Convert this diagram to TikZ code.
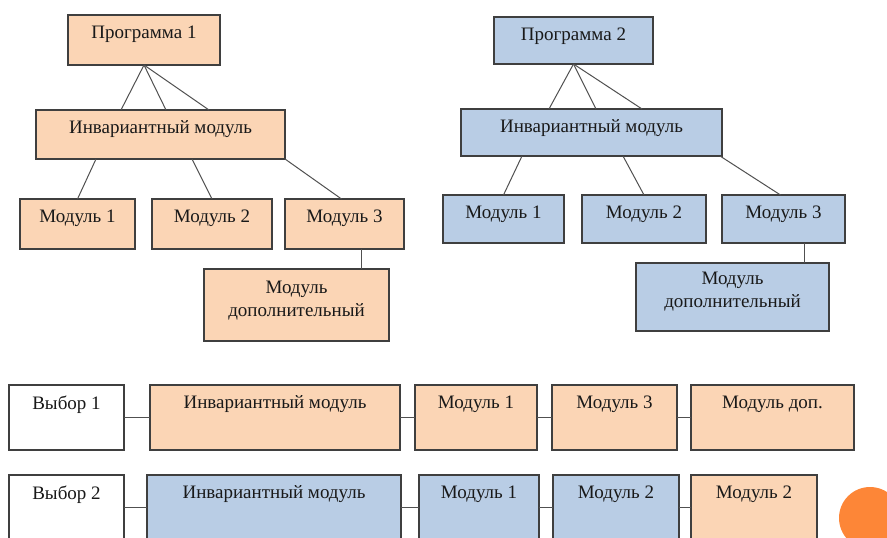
\documentclass[tikz,border=0pt]{standalone}
\usepackage{fontspec}
\setmainfont{Liberation Serif}
\definecolor{orfill}{HTML}{FBD5B5}
\definecolor{blfill}{HTML}{B9CDE5}
\definecolor{edge}{HTML}{3F3F3F}
\definecolor{conn}{HTML}{505050}
\definecolor{dot}{HTML}{FD8637}
\begin{document}
\begin{tikzpicture}[x=1pt,y=-1pt,
  box/.style={draw=edge, line width=1.3pt, rectangle, anchor=north west, inner sep=0pt, outer sep=0pt},
  ob/.style={box, fill=orfill},
  bb/.style={box, fill=blfill},
  wb/.style={box, fill=white},
  txt/.style={font=\fontsize{19}{23}\selectfont, text=black!90, align=center, inner sep=0pt},
  con/.style={draw=conn, line width=1pt}]
\useasboundingbox (0,0) rectangle (887,538);
\begin{scope}
\clip (0,0) rectangle (887,538);
% ---------- left tree ----------
\node[ob, minimum width=152pt, minimum height=50pt] (p1) at (68,15) {};
\node[txt] at ([yshift=-19.5pt]p1.north) {Программа 1};
\node[ob, minimum width=249pt, minimum height=49pt] (i1) at (36,110) {};
\node[txt] at ([yshift=-19.5pt]i1.north) {Инвариантный модуль};
\node[ob, minimum width=115pt, minimum height=50pt] (a1) at (20,199) {};
\node[txt] at ([yshift=-19.5pt]a1.north) {Модуль 1};
\node[ob, minimum width=120pt, minimum height=50pt] (a2) at (152,199) {};
\node[txt] at ([yshift=-19.5pt]a2.north) {Модуль 2};
\node[ob, minimum width=119pt, minimum height=50pt] (a3) at (285,199) {};
\node[txt] at ([yshift=-19.5pt]a3.north) {Модуль 3};
\node[ob, minimum width=185pt, minimum height=72pt] (ad) at (204,269) {};
\node[txt, anchor=north] at ([yshift=-12pt]ad.north) {Модуль\\дополнительный};
\draw[con] (p1.south) -- ([xshift=85pt]i1.north west);
\draw[con] (p1.south) -- ([xshift=130pt]i1.north west);
\draw[con] (p1.south) -- ([xshift=173pt]i1.north west);
\draw[con] ([xshift=60pt]i1.south west) -- (a1.north);
\draw[con] ([xshift=156pt]i1.south west) -- (a2.north);
\draw[con] (i1.south east) -- ([xshift=-3pt]a3.north);
\draw[con] ([xshift=76pt]a3.south west) -- ([xshift=157pt]ad.north west);
% ---------- right tree ----------
\node[bb, minimum width=159pt, minimum height=47pt] (p2) at (494,17) {};
\node[txt] at ([yshift=-19.5pt]p2.north) {Программа 2};
\node[bb, minimum width=261pt, minimum height=47pt] (i2) at (461,109) {};
\node[txt] at ([yshift=-19.5pt]i2.north) {Инвариантный модуль};
\node[bb, minimum width=121pt, minimum height=48pt] (b1) at (443,195) {};
\node[txt] at ([yshift=-19.5pt]b1.north) {Модуль 1};
\node[bb, minimum width=124pt, minimum height=48pt] (b2) at (582,195) {};
\node[txt] at ([yshift=-19.5pt]b2.north) {Модуль 2};
\node[bb, minimum width=123pt, minimum height=48pt] (b3) at (722,195) {};
\node[txt] at ([yshift=-19.5pt]b3.north) {Модуль 3};
\node[bb, minimum width=193pt, minimum height=68pt] (bd) at (636,263) {};
\node[txt, anchor=north] at ([yshift=-9pt]bd.north) {Модуль\\дополнительный};
\draw[con] (p2.south) -- ([xshift=88pt]i2.north west);
\draw[con] (p2.south) -- ([xshift=135pt]i2.north west);
\draw[con] (p2.south) -- ([xshift=181pt]i2.north west);
\draw[con] ([xshift=61pt]i2.south west) -- (b1.north);
\draw[con] ([xshift=162pt]i2.south west) -- (b2.north);
\draw[con] ([xshift=-2pt]i2.south east) -- ([xshift=-3pt]b3.north);
\draw[con] ([xshift=82pt]b3.south west) -- ([xshift=168pt]bd.north west);
% ---------- row 1 ----------
\node[wb, minimum width=115pt, minimum height=65pt] (v1) at (9,385) {};
\node[txt] at ([yshift=-19.5pt]v1.north) {Выбор 1};
\node[ob, minimum width=250pt, minimum height=65pt] (r1a) at (150,385) {};
\node[txt] at ([yshift=-19.5pt]r1a.north) {Инвариантный модуль};
\node[ob, minimum width=122pt, minimum height=65pt] (r1b) at (415,385) {};
\node[txt] at ([yshift=-19.5pt]r1b.north) {Модуль 1};
\node[ob, minimum width=125pt, minimum height=65pt] (r1c) at (552,385) {};
\node[txt] at ([yshift=-19.5pt]r1c.north) {Модуль 3};
\node[ob, minimum width=163pt, minimum height=65pt] (r1d) at (691,385) {};
\node[txt] at ([yshift=-19.5pt]r1d.north) {Модуль доп.};
\draw[con] (v1.east) -- (r1a.west);
\draw[con] (r1a.east) -- (r1b.west);
\draw[con] (r1b.east) -- (r1c.west);
\draw[con] (r1c.east) -- (r1d.west);
% ---------- row 2 ----------
\node[wb, minimum width=115pt, minimum height=65pt] (v2) at (9,475) {};
\node[txt] at ([yshift=-19.5pt]v2.north) {Выбор 2};
\node[bb, minimum width=254pt, minimum height=65pt] (r2a) at (147,475) {};
\node[txt] at ([yshift=-19.5pt]r2a.north) {Инвариантный модуль};
\node[bb, minimum width=120pt, minimum height=65pt] (r2b) at (419,475) {};
\node[txt] at ([yshift=-19.5pt]r2b.north) {Модуль 1};
\node[bb, minimum width=126pt, minimum height=65pt] (r2c) at (553,475) {};
\node[txt] at ([yshift=-19.5pt]r2c.north) {Модуль 2};
\node[ob, minimum width=126pt, minimum height=65pt] (r2d) at (691,475) {};
\node[txt] at ([yshift=-19.5pt]r2d.north) {Модуль 2};
\draw[con] (v2.east) -- (r2a.west);
\draw[con] (r2a.east) -- (r2b.west);
\draw[con] (r2b.east) -- (r2c.west);
\draw[con] (r2c.east) -- (r2d.west);
% ---------- decoration ----------
\fill[dot] (870,518) circle (31);
\end{scope}
\end{tikzpicture}
\end{document}
